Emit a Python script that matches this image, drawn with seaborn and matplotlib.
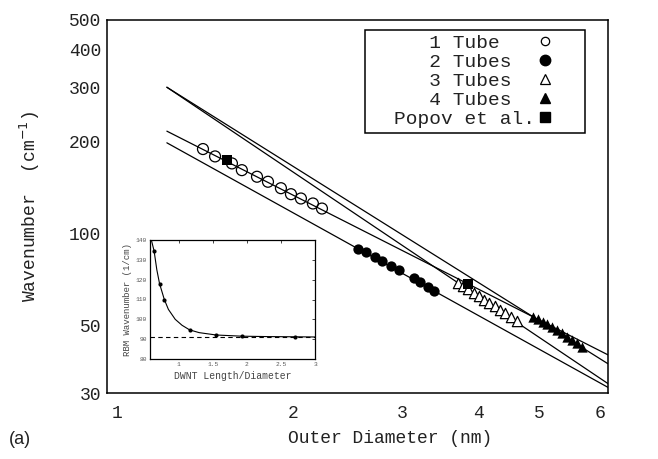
import numpy as np
import pandas as pd
import matplotlib
matplotlib.use("Agg")
import matplotlib.pyplot as plt
from matplotlib.lines import Line2D
from matplotlib.patches import Rectangle
from matplotlib.transforms import ScaledTranslation
import seaborn as sns

# ---- values ----
d_1tube = [1.430, 1.496, 1.593, 1.653, 1.749, 1.822, 1.912, 1.985, 2.060, 2.154, 2.228]
w_1tube = [188.9, 178.7, 169.5, 161.1, 153.3, 147.6, 140.6, 134.4, 130.1, 125.3, 120.6]

d_2tubes = [2.551, 2.625, 2.715, 2.790, 2.884, 2.965, 3.143, 3.211, 3.311, 3.386]
w_2tubes = [89.1, 86.7, 83.5, 81.0, 78.0, 75.7, 71.4, 69.1, 66.7, 64.9]

d_3tubes = [3.698, 3.768, 3.838, 3.926, 4.000, 4.074, 4.150, 4.245, 4.325, 4.406, 4.506, 4.608]
w_3tubes = [68.9, 67.4, 65.9, 63.9, 62.5, 60.6, 59.2, 57.9, 56.2, 54.9, 53.3, 51.7]

d_4tubes = [4.896, 4.988, 5.070, 5.146, 5.242, 5.342, 5.443, 5.546, 5.648, 5.754, 5.863]
w_4tubes = [53.4, 52.5, 51.4, 50.4, 49.5, 48.3, 47.1, 45.9, 44.8, 43.7, 42.3]

d_popov = [1.564, 3.838]
w_popov = [174.3, 68.4]

# straight fit lines (log-log), end points
fit_d = [1.25, 6.47]
fit_1tube = [216.2, 40.0]
fit_2tubes = [198.0, 31.3]
fit_3tubes = [301.1, 32.2]
fit_4tubes = [301.1, 37.4]

# inset
inset_ratio = [0.64, 0.72, 0.79, 1.16, 1.55, 1.93, 2.70]
inset_rbm = [134.5, 117.9, 109.8, 94.7, 92.1, 91.4, 91.2]
curve_ratio = [0.60, 0.64, 0.68, 0.72, 0.79, 0.85, 0.95, 1.05, 1.16, 1.30, 1.55, 1.93, 2.30, 2.70, 3.00]
curve_rbm = [140.0, 134.5, 125.0, 118.0, 110.0, 105.0, 100.0, 97.0, 94.7, 93.3, 92.1, 91.5, 91.3, 91.2, 91.1]
asymptote = 91.0

xticks = [1, 2, 3, 4, 5, 6]
yticks = [30, 50, 100, 200, 300, 400, 500]
legend_labels = ["   1 Tube   ", "   2 Tubes  ", "   3 Tubes  ", "   4 Tubes  ", "Popov et al."]

sns.set_theme(style="white")
plt.rcParams["font.family"] = ["Liberation Mono", "DejaVu Sans"]
plt.rcParams["axes.edgecolor"] = "black"
plt.rcParams["axes.linewidth"] = 1.1
ink = "#222222"

fig = plt.figure(figsize=(6.58, 4.59), dpi=100)
ax = fig.add_axes([107/658, 1-393/459, 501/658, 373/459])

# fit lines
for w in [fit_1tube, fit_2tubes, fit_3tubes, fit_4tubes]:
    sns.lineplot(x=fit_d, y=w, ax=ax, color="black", lw=0.9, sort=False, estimator=None)

sns.scatterplot(x=d_1tube, y=w_1tube, ax=ax, marker="o", s=62, facecolor="none",
                edgecolor="black", linewidth=0.9, zorder=3)
sns.scatterplot(x=d_2tubes, y=w_2tubes, ax=ax, marker="o", s=55, color="black",
                edgecolor="black", linewidth=0, zorder=3)
sns.scatterplot(x=d_3tubes, y=w_3tubes, ax=ax, marker="^", s=55, facecolor="white",
                edgecolor="black", linewidth=0.9, zorder=3)
sns.scatterplot(x=d_4tubes, y=w_4tubes, ax=ax, marker="^", s=55, color="black",
                edgecolor="black", linewidth=0, zorder=3)
sns.scatterplot(x=d_popov, y=w_popov, ax=ax, marker="s", s=50, color="black",
                edgecolor="black", linewidth=0, zorder=4)

ax.set_xscale("log")
ax.set_yscale("log")
ax.set_xlim(1, 6.47)
ax.set_ylim(30, 500)
ax.set_xticks(xticks)
ax.set_xticklabels([str(t) for t in xticks])
ax.set_yticks(yticks)
ax.set_yticklabels([str(t) for t in yticks])
ax.minorticks_off()
ax.tick_params(axis="x", direction="in", length=5, width=1, pad=9, labelsize=13, labelcolor=ink)
ax.tick_params(axis="y", direction="out", length=3, width=1, pad=1, labelsize=13, labelcolor=ink)
xlabs = ax.get_xticklabels()
xlabs[0].set_transform(xlabs[0].get_transform() + ScaledTranslation(10/100, 0, fig.dpi_scale_trans))
xlabs[-1].set_transform(xlabs[-1].get_transform() + ScaledTranslation(12/100, 0, fig.dpi_scale_trans))

ax.set_xlabel("Outer Diameter (nm)", fontsize=13, color=ink)
ax.xaxis.set_label_coords(0.565, -0.099)
ax.set_ylabel("Wavenumber  (cm$^{-1}$)", fontsize=13, color=ink)
ax.yaxis.set_label_coords(-0.130, 0.5)

# legend: box drawn separately so the padding matches
ax.add_patch(Rectangle((258/501, 260/373), 220/501, 103/373, transform=ax.transAxes,
                       fill=True, facecolor="white", edgecolor="black", lw=1.1, zorder=5))
handles = [
    Line2D([], [], ls="none", marker="o", ms=6, mfc="none", mec="black", mew=0.9),
    Line2D([], [], ls="none", marker="o", ms=7.5, mfc="black", mec="black"),
    Line2D([], [], ls="none", marker="^", ms=6.5, mfc="white", mec="black", mew=0.9),
    Line2D([], [], ls="none", marker="^", ms=7, mfc="black", mec="black"),
    Line2D([], [], ls="none", marker="s", ms=7, mfc="black", mec="black"),
]
leg = ax.legend(handles, legend_labels, loc="upper right", bbox_to_anchor=(446/501, 359/373),
                markerfirst=False, fontsize=14, handlelength=0.8, handletextpad=0.1,
                labelspacing=0.08, borderpad=0, borderaxespad=0, frameon=False)
leg.set_zorder(6)
for t in leg.get_texts():
    t.set_color(ink)

# inset
axi = fig.add_axes([150/658, 1-359/459, 165/658, 119/459])
sns.lineplot(x=curve_ratio, y=curve_rbm, ax=axi, color="black", lw=0.8, sort=False, estimator=None)
axi.axhline(asymptote, color="black", lw=0.8, ls=(0, (4, 3)))
sns.scatterplot(x=inset_ratio, y=inset_rbm, ax=axi, color="black", s=9, linewidth=0, zorder=3)
axi.set_xlim(0.58, 3)
axi.set_ylim(80, 140)
axi.set_xticks([1, 1.5, 2, 2.5, 3])
axi.set_xticklabels(["1", "1.5", "2", "2.5", "3"])
axi.set_yticks(range(80, 141, 10))
axi.tick_params(direction="in", length=2, width=0.6, labelsize=4.5, labelcolor="#555555",
                top=True, right=True, pad=2)
for s in axi.spines.values():
    s.set_linewidth(0.9)
axi.set_xlabel("DWNT Length/Diameter", fontsize=7, color="#444444", labelpad=3)
axi.set_ylabel("RBM Wavenumber (1/cm)", fontsize=6.5, color="#444444", labelpad=3)

fig.text(20/658, 1-440/459, "(a)", fontsize=13, family=["Liberation Sans", "DejaVu Sans"],
         color=ink, ha="center", va="center")

fig.savefig("out.png", dpi=100)
